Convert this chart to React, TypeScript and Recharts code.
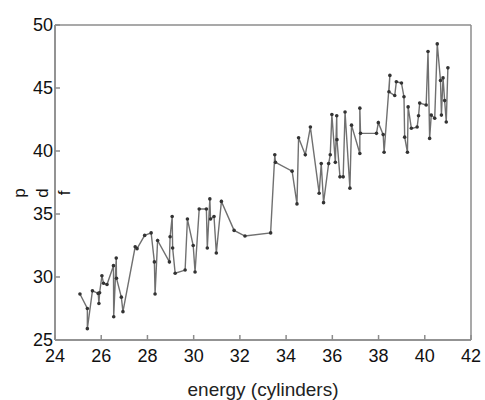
import { LineChart, Line, XAxis, YAxis, CartesianGrid } from 'recharts';

const energy = [
  25.08, 25.4, 25.4, 25.62, 25.87, 25.9, 25.93, 26.03, 26.1, 26.25, 26.53, 26.54,
  26.65, 26.66, 26.87, 26.94, 27.47, 27.55, 27.88, 28.16, 28.3, 28.33, 28.44, 28.95,
  28.98, 29.07, 29.09, 29.2, 29.63, 29.73, 29.98, 30.06, 30.24, 30.55, 30.59, 30.7,
  30.73, 30.88, 30.98, 31.2, 31.75, 32.22, 33.33, 33.51, 33.54, 34.26, 34.47, 34.54,
  34.83, 35.05, 35.43, 35.52, 35.62, 35.84, 35.91, 35.98, 36.13, 36.19, 36.2, 36.33,
  36.47, 36.55, 36.76, 36.83, 37.19, 37.19, 37.22, 37.91, 37.99, 38.2, 38.24, 38.49,
  38.45, 38.7, 38.77, 38.99, 39.1, 39.13, 39.25, 39.28, 39.42, 39.67, 39.73, 39.78,
  40.06, 40.14, 40.21, 40.28, 40.43, 40.54, 40.68, 40.72, 40.79, 40.86, 40.93, 41.0,
];

const pdf = [
  28.65, 27.5, 25.9, 28.9, 28.7, 27.9, 28.75, 30.1, 29.5, 29.4, 30.9, 26.85,
  31.5, 29.9, 28.4, 27.25, 32.4, 32.25, 33.3, 33.5, 31.2, 28.65, 32.9, 31.2,
  33.2, 34.8, 32.3, 30.3, 30.55, 34.6, 32.5, 30.4, 35.4, 35.4, 32.3, 36.2,
  34.6, 34.8, 31.9, 36.0, 33.7, 33.25, 33.5, 39.7, 39.1, 38.4, 35.8, 41.05,
  39.7, 41.9, 36.65, 39.0, 35.9, 39.0, 39.7, 42.9, 39.1, 42.8, 40.9, 37.95,
  37.95, 43.1, 37.05, 42.05, 39.8, 43.4, 41.4, 41.4, 42.25, 41.3, 39.9, 46.0,
  44.7, 44.4, 45.5, 45.4, 44.3, 41.1, 39.9, 43.5, 41.8, 41.9, 42.8, 43.8,
  43.65, 47.9, 41.0, 42.85, 42.6, 48.5, 45.6, 42.85, 45.8, 44.0, 42.3, 46.6,
];

const xTicks = [24, 26, 28, 30, 32, 34, 36, 38, 40, 42];
const yTicks = [25, 30, 35, 40, 45, 50];
const yLetters = ['p', 'd', 'f'];
// grid lines only at the axis ends, so the grid draws a box round the plot
const boxX = [24, 42];
const boxY = [25, 50];

const data = energy.map((e, i) => ({ energy: e, pdf: pdf[i] }));

const font = 'Liberation Sans, Arial, sans-serif';
const frame = '#8c8c8c';

export default function App() {
  return (
    <div style={{ position: 'absolute', left: 0, top: 0, width: 485, height: 400, background: '#fff' }}>
      <LineChart width={485} height={400} data={data} margin={{ top: 25, right: 14, bottom: 0, left: 0 }}>
        <CartesianGrid
          verticalValues={boxX}
          horizontalValues={boxY}
          stroke={frame}
          strokeWidth={1.5}
          strokeOpacity={1}
        />
        <XAxis
          type="number"
          dataKey="energy"
          domain={[24, 42]}
          ticks={xTicks}
          height={60}
          stroke={frame}
          strokeWidth={1.5}
          tickSize={-5}
          tickMargin={14}
          tick={{ fill: '#111', fontSize: 18, fontFamily: font }}
          label={{ value: 'energy (cylinders)', position: 'insideBottom', offset: 4, fill: '#222', fontSize: 19, fontFamily: font }}
        />
        <YAxis
          type="number"
          domain={[25, 50]}
          ticks={yTicks}
          width={55}
          stroke={frame}
          strokeWidth={1.5}
          tickSize={-5}
          tickMargin={7}
          tick={{ fill: '#111', fontSize: 18, fontFamily: font }}
        />
        <Line
          type="linear"
          dataKey="pdf"
          stroke="#707070"
          strokeWidth={1.4}
          dot={{ r: 1.8, fill: '#333', stroke: 'none' }}
          isAnimationActive={false}
        />
      </LineChart>
      {/* y label: three letters each turned on its side */}
      {yLetters.map((ch, i) => (
        <span
          key={ch}
          style={{
            position: 'absolute',
            display: 'block',
            left: 19 + i * 22.5,
            top: 193,
            transform: 'translate(-50%, -50%) rotate(-90deg)',
            fontFamily: font,
            fontSize: 17,
            lineHeight: 1,
            color: '#111',
          }}
        >
          {ch}
        </span>
      ))}
    </div>
  );
}
